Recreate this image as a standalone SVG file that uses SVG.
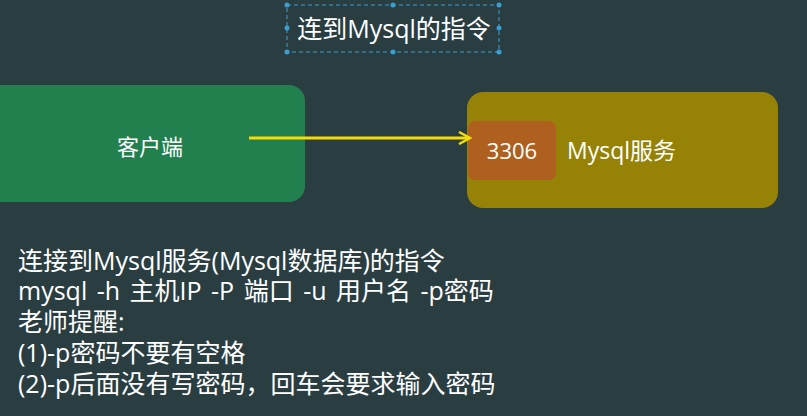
<svg xmlns="http://www.w3.org/2000/svg" width="807" height="416" viewBox="0 0 807 416">
<style>
text{font-family:"Open Sans","Noto Sans CJK SC",sans-serif;fill:#ffffff}
.h{fill:#3a9fd0}
.body{font-size:25px}
</style>
<defs>
<marker id="ah" markerWidth="14" markerHeight="14" refX="12" refY="7" orient="auto" markerUnits="userSpaceOnUse">
<path d="M1,1 L12,7 L1,13" fill="none" stroke="#f2dc0a" stroke-width="2.5"/>
</marker>
</defs>
<rect width="807" height="416" fill="#2a3e42"/>
<g id="title">
<rect x="287" y="5" width="212" height="47" fill="none" stroke="#3a9fd0" stroke-width="1" stroke-dasharray="4,3"/>
<circle class="h" cx="287" cy="5" r="2.5"/><circle class="h" cx="393" cy="5" r="2.5"/><circle class="h" cx="499" cy="5" r="2.5"/>
<circle class="h" cx="287" cy="28" r="2.5"/><circle class="h" cx="499" cy="28" r="2.5"/>
<circle class="h" cx="287" cy="52" r="2.5"/><circle class="h" cx="393" cy="52" r="2.5"/><circle class="h" cx="499" cy="52" r="2.5"/>
<text x="394" y="38" font-size="25" text-anchor="middle">连到Mysql的指令</text>
</g>
<g id="client">
<rect x="-20" y="85" width="325" height="117" rx="16" fill="#22804f"/>
<text x="150" y="155" font-size="22" text-anchor="middle">客户端</text>
</g>
<g id="server">
<rect x="467" y="92" width="311" height="116" rx="16" fill="#958207"/>
<rect x="468" y="121" width="88" height="59" rx="7" fill="#b0601e"/>
<text x="512" y="159" font-size="22" text-anchor="middle">3306</text>
<text x="567" y="159" font-size="23">Mysql服务</text>
</g>
<g id="connectors">
<line x1="249" y1="138" x2="470" y2="138" stroke="#f2dc0a" stroke-width="3" marker-end="url(#ah)"/>
</g>
<g id="notes" class="body">
<text x="18" y="270">连接到Mysql服务(Mysql数据库)的指令</text>
<text x="18" y="300" word-spacing="3">mysql -h 主机IP -P 端口 -u 用户名 -p密码</text>
<text x="18" y="331">老师提醒:</text>
<text x="18" y="362">(1)-p密码不要有空格</text>
<text x="18" y="393">(2)-p后面没有写密码，回车会要求输入密码</text>
</g>
</svg>
